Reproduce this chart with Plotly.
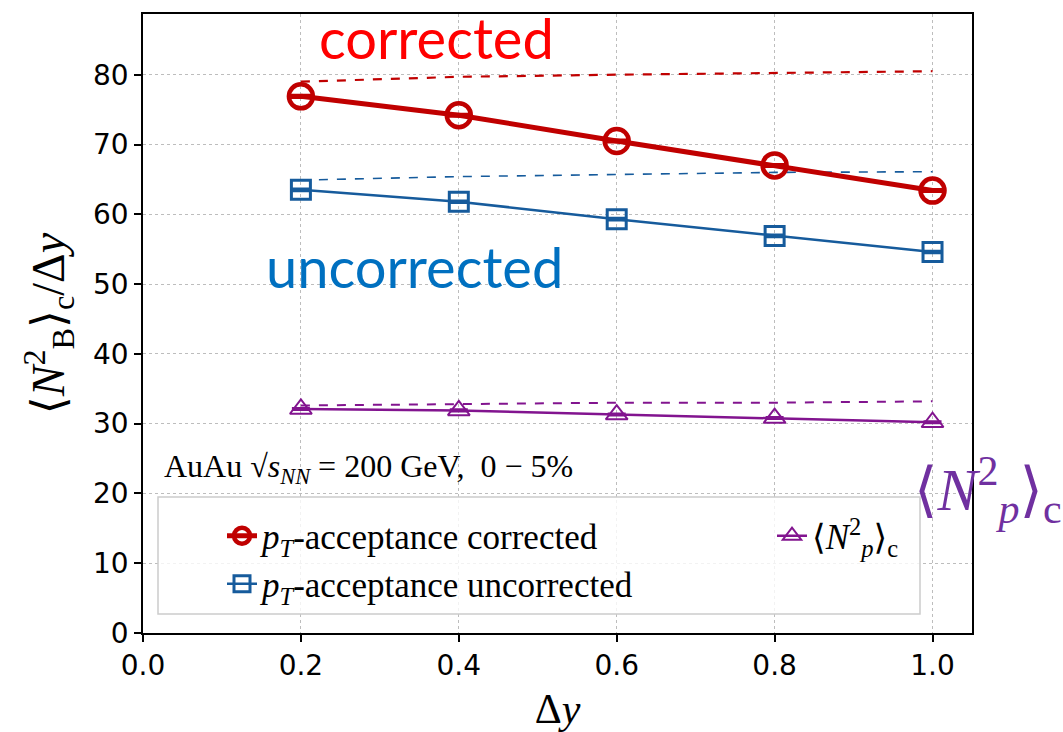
import plotly.graph_objects as go

dy = [0.2, 0.4, 0.6, 0.8, 1.0]
corrected = [76.9, 74.2, 70.5, 67.0, 63.4]
corrected_ref = [79.0, 79.7, 80.0, 80.3, 80.5]
uncorrected = [63.5, 61.8, 59.3, 56.9, 54.6]
uncorrected_ref = [64.9, 65.4, 65.7, 66.0, 66.1]
np2 = [32.1, 31.9, 31.3, 30.8, 30.2]
np2_ref = [32.6, 32.8, 33.0, 33.0, 33.2]
err = [0.15, 0.15, 0.15, 0.15, 0.15]

xticks = [0.0, 0.2, 0.4, 0.6, 0.8, 1.0]
xticklabels = ["0.0", "0.2", "0.4", "0.6", "0.8", "1.0"]
yticks = [0, 10, 20, 30, 40, 50, 60, 70, 80]

RED = "#c00000"
BLUE = "#165b9c"
PURPLE = "#82148f"

W, H = 1063, 732
L, R, T, B = 143, 91, 14, 99
PW, PH = W - L - R, H - T - B


def px(x):
    return (x - L) / PW


def py(y):
    return (H - B - y) / PH


SERIF = "Liberation Serif, DejaVu Serif, serif"

fig = go.Figure()

# dashed reference curves
fig.add_trace(go.Scatter(x=dy, y=corrected_ref, mode="lines", showlegend=False,
                         line=dict(color=RED, width=2.2, dash="dash")))
fig.add_trace(go.Scatter(x=dy, y=uncorrected_ref, mode="lines", showlegend=False,
                         line=dict(color=BLUE, width=1.6, dash="dash")))
fig.add_trace(go.Scatter(x=dy, y=np2_ref, mode="lines", showlegend=False,
                         line=dict(color=PURPLE, width=2, dash="dash")))

# main series
fig.add_trace(go.Scatter(
    x=dy, y=corrected, mode="lines+markers", legend="legend",
    name="<i>p</i><sub><i>T</i></sub>-acceptance corrected",
    line=dict(color=RED, width=5),
    marker=dict(symbol="circle-open", size=24, color=RED, line=dict(width=4.5)),
    error_y=dict(type="data", array=err, color=RED, thickness=3, width=11)))
fig.add_trace(go.Scatter(
    x=dy, y=uncorrected, mode="lines+markers", legend="legend2",
    name="<i>p</i><sub><i>T</i></sub>-acceptance uncorrected",
    line=dict(color=BLUE, width=2.5),
    marker=dict(symbol="square-open", size=19, color=BLUE, line=dict(width=3)),
    error_y=dict(type="data", array=err, color=BLUE, thickness=2.5, width=9)))
fig.add_trace(go.Scatter(
    x=dy, y=np2, mode="lines+markers", legend="legend3",
    name="⟨<i>N</i><sup>2</sup><sub><i>p</i></sub>⟩<sub>c</sub>",
    line=dict(color=PURPLE, width=2.5),
    marker=dict(symbol="triangle-up-open", size=19, color=PURPLE, line=dict(width=2)),
    error_y=dict(type="data", array=err, color=PURPLE, thickness=2, width=9)))

# legend frame
x0, x1, y0, y1 = px(158), px(920), py(614), py(497)
fig.add_shape(type="rect", xref="paper", yref="paper", x0=x0, x1=x1, y0=y0, y1=y1,
              fillcolor="rgba(255,255,255,0.8)", line=dict(color="#cccccc", width=1.5),
              layer="above")

legfont = dict(family=SERIF, size=35, color="black")
common = dict(bgcolor="rgba(0,0,0,0)", borderwidth=0, font=legfont,
              xanchor="left", yanchor="middle", itemwidth=30)

annots = [
    dict(text="AuAu √<i>s</i><sub><i>NN</i></sub> = 200 GeV,  0 − 5%",
         x=px(162), y=py(468), xanchor="left", yanchor="middle",
         font=dict(family=SERIF, size=32, color="black")),
    dict(text="corrected", x=px(436), y=py(38), xanchor="center", yanchor="middle",
         font=dict(family="Lato, sans-serif", size=56, color="#ff0000")),
    dict(text="uncorrected", x=px(414), y=py(266), xanchor="center", yanchor="middle",
         font=dict(family="Lato, sans-serif", size=56, color="#0070c0")),
    dict(text="⟨<i>N</i><sup>2</sup><sub><i>p</i></sub>⟩<sub>c</sub>", x=px(988), y=py(490),
         xanchor="center", yanchor="middle",
         font=dict(family=SERIF, size=60, color="#7030a0")),
]
for a in annots:
    fig.add_annotation(xref="paper", yref="paper", showarrow=False, **a)

axis_common = dict(showline=True, linecolor="black", linewidth=1.5, mirror=True,
                   ticks="outside", ticklen=7, tickwidth=1.5, tickcolor="black",
                   showgrid=True, gridcolor="#bdbdbd", gridwidth=1, griddash="dot",
                   zeroline=False, automargin=False,
                   tickfont=dict(family="DejaVu Sans, sans-serif", size=28, color="black"))

fig.update_layout(
    width=W, height=H,
    margin=dict(l=L, r=R, t=T, b=B),
    paper_bgcolor="white", plot_bgcolor="white",
    xaxis=dict(range=[0, 1.05], tickvals=xticks, ticktext=xticklabels,
               title=dict(text="Δ<i>y</i>", standoff=20,
                          font=dict(family=SERIF, size=42, color="black")),
               **axis_common),
    yaxis=dict(range=[0, 88.7], tickvals=yticks,
               title=dict(text="⟨<i>N</i><sup>2</sup><sub>B</sub>⟩<sub>c</sub>/Δ<i>y</i>", standoff=14,
                          font=dict(family=SERIF, size=46, color="black")),
               **axis_common),
    legend=dict(x=px(222), y=py(536), **common),
    legend2=dict(x=px(222), y=py(584), **common),
    legend3=dict(x=px(772), y=py(536), **common),
)

fig.write_html("out.html")
